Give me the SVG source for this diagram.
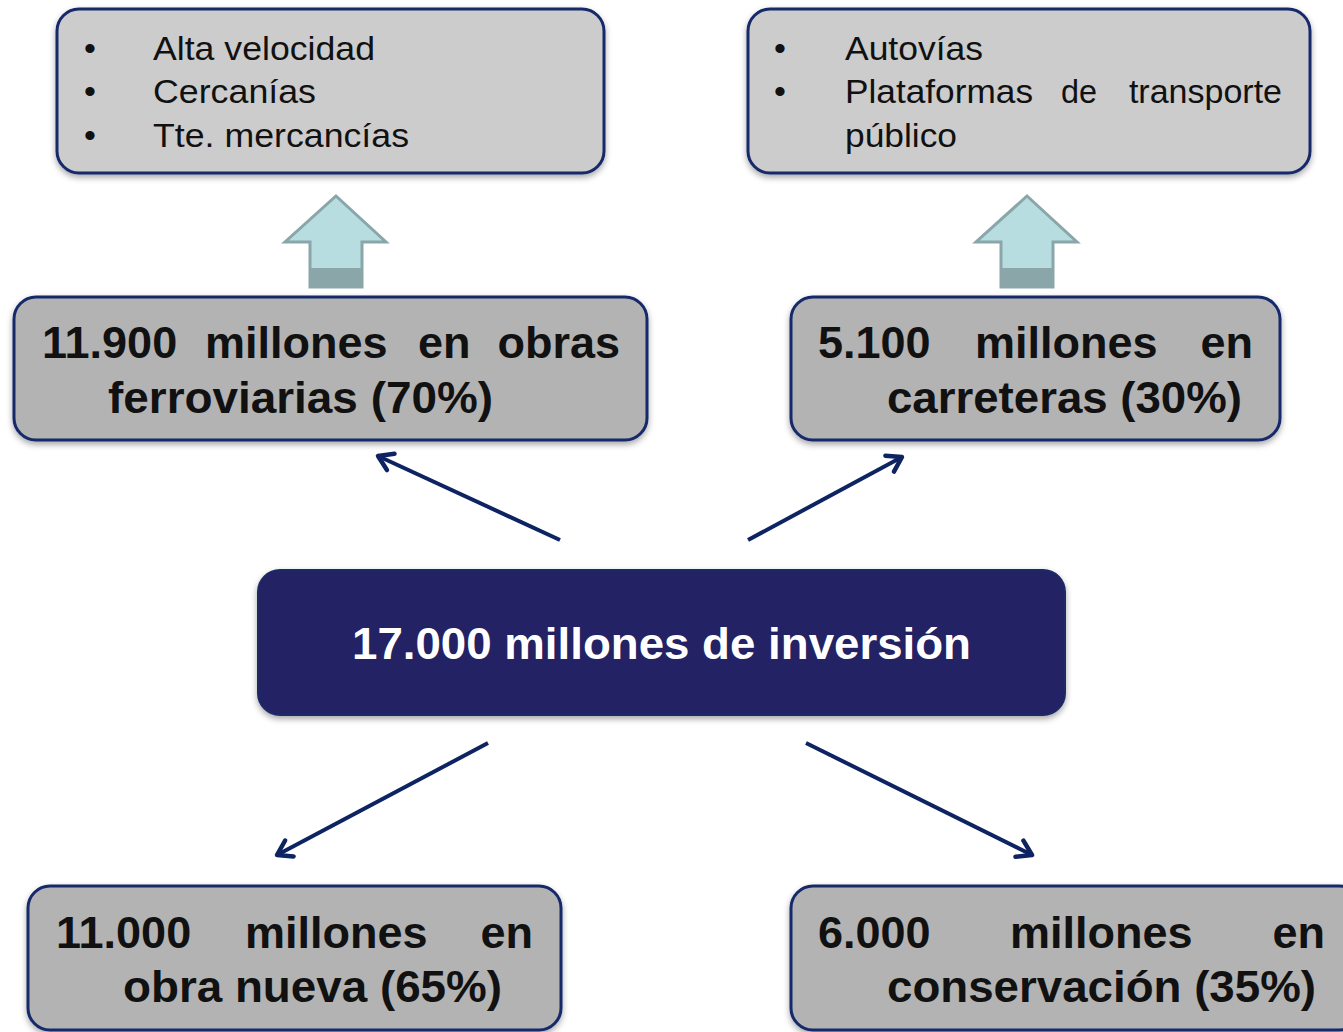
<svg xmlns="http://www.w3.org/2000/svg" width="1343" height="1032" viewBox="0 0 1343 1032">
<style>
.box{fill:#cccccc;stroke:#15296b;stroke-width:3;filter:url(#sh)}
.box2{fill:#b3b3b3;stroke:#15296b;stroke-width:3;filter:url(#sh)}
.main{fill:#232365;stroke:#1a2a66;stroke-width:2;filter:url(#sh)}
.t{font-family:"Liberation Sans",Arial,sans-serif;font-size:34px;fill:#111}
.b{font-family:"Liberation Sans",Arial,sans-serif;font-size:45px;font-weight:bold;fill:#111}
.w{font-family:"Liberation Sans",Arial,sans-serif;font-size:45px;font-weight:bold;fill:#fff}
.blk{fill:#b7dde1;stroke:#8aa6a9;stroke-width:3}
.blkd{fill:#8aa6a9}
.con{stroke:#0e2462;stroke-width:4;fill:none;marker-end:url(#ah)}
</style>
<defs>
<filter id="sh" x="-5%" y="-10%" width="110%" height="130%">
<feDropShadow dx="0" dy="3" stdDeviation="3" flood-color="#000" flood-opacity="0.35"/>
</filter>
<marker id="ah" markerUnits="userSpaceOnUse" markerWidth="30" markerHeight="30" refX="17" refY="12" orient="auto">
<path d="M3,3 L17,12 L3,21" fill="none" stroke="#0e2462" stroke-width="4.5" stroke-linecap="round" stroke-linejoin="round"/>
</marker>
</defs>
<rect width="1343" height="1032" fill="#fff"/>

<g id="top-left">
<rect class="box" x="57" y="9" width="547" height="164" rx="22"/>
<text class="t" x="84" y="60">•</text>
<text class="t" x="84" y="103">•</text>
<text class="t" x="84" y="147">•</text>
<text class="t" x="153" y="60" textLength="222" lengthAdjust="spacingAndGlyphs">Alta velocidad</text>
<text class="t" x="153" y="103" textLength="163" lengthAdjust="spacingAndGlyphs">Cercanías</text>
<text class="t" x="153" y="147" textLength="256" lengthAdjust="spacingAndGlyphs">Tte. mercancías</text>
</g>

<g id="top-right">
<rect class="box" x="748" y="9" width="562" height="164" rx="22"/>
<text class="t" x="774" y="60">•</text>
<text class="t" x="774" y="103">•</text>
<text class="t" x="845" y="60" textLength="138" lengthAdjust="spacingAndGlyphs">Autovías</text>
<text class="t" x="845" y="103" textLength="188" lengthAdjust="spacingAndGlyphs">Plataformas</text>
<text class="t" x="1061" y="103" textLength="36" lengthAdjust="spacingAndGlyphs">de</text>
<text class="t" x="1282" y="103" text-anchor="end">transporte</text>
<text class="t" x="845" y="147" textLength="112" lengthAdjust="spacingAndGlyphs">público</text>
</g>

<g id="up-arrow-left">
<polygon class="blk" points="336,196 386,242 362,242 362,287 310,287 310,242 285,242"/>
<rect class="blkd" x="310" y="268" width="52" height="20"/>
</g>
<g id="up-arrow-right">
<polygon class="blk" points="1027,196 1077,242 1053,242 1053,287 1001,287 1001,242 976,242"/>
<rect class="blkd" x="1001" y="268" width="52" height="20"/>
</g>

<g id="rail">
<rect class="box2" x="14" y="297" width="633" height="143" rx="22"/>
<text class="b" x="42" y="358">11.900</text>
<text class="b" x="205" y="358">millones</text>
<text class="b" x="418" y="358">en</text>
<text class="b" x="620" y="358" text-anchor="end">obras</text>
<text class="b" x="108" y="413" textLength="385" lengthAdjust="spacingAndGlyphs">ferroviarias (70%)</text>
</g>

<g id="roads">
<rect class="box2" x="791" y="297" width="489" height="143" rx="22"/>
<text class="b" x="818" y="358">5.100</text>
<text class="b" x="975" y="358">millones</text>
<text class="b" x="1253" y="358" text-anchor="end">en</text>
<text class="b" x="887" y="413" textLength="355" lengthAdjust="spacingAndGlyphs">carreteras (30%)</text>
</g>

<g id="center">
<rect class="main" x="258" y="570" width="807" height="145" rx="22"/>
<text class="w" x="352" y="659" textLength="619" lengthAdjust="spacingAndGlyphs">17.000 millones de inversión</text>
</g>

<g id="new-works">
<rect class="box2" x="28" y="886" width="533" height="144" rx="22"/>
<text class="b" x="56" y="948">11.000</text>
<text class="b" x="245" y="948">millones</text>
<text class="b" x="533" y="948" text-anchor="end">en</text>
<text class="b" x="123" y="1002" textLength="379" lengthAdjust="spacingAndGlyphs">obra nueva (65%)</text>
</g>

<g id="conservation">
<rect class="box2" x="791" y="886" width="570" height="144" rx="22"/>
<text class="b" x="818" y="948">6.000</text>
<text class="b" x="1010" y="948">millones</text>
<text class="b" x="1325" y="948" text-anchor="end">en</text>
<text class="b" x="887" y="1002" textLength="429" lengthAdjust="spacingAndGlyphs">conservación (35%)</text>
</g>

<g id="connectors">
<line class="con" x1="560" y1="540" x2="378" y2="456"/>
<line class="con" x1="748" y1="540" x2="902" y2="457"/>
<line class="con" x1="488" y1="743" x2="277" y2="855"/>
<line class="con" x1="806" y1="743" x2="1032" y2="855"/>
</g>
</svg>
